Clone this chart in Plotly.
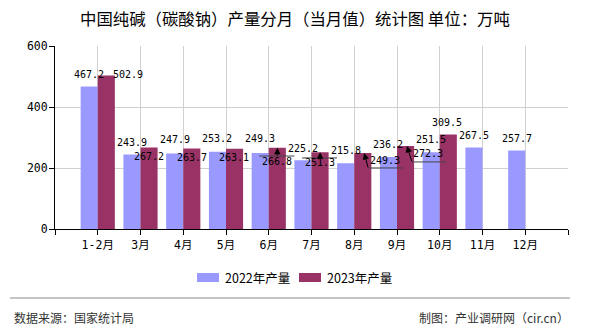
import plotly.graph_objects as go

# ---- data ----
categories = ["1-2月", "3月", "4月", "5月", "6月", "7月", "8月", "9月", "10月", "11月", "12月"]
prod_2022 = [467.2, 243.9, 247.9, 253.2, 249.3, 225.2, 215.8, 236.2, 251.5, 267.5, 257.7]
prod_2023 = [502.9, 267.2, 263.7, 263.1, 266.8, 251.3, 249.3, 272.3, 309.5]
series_names = ["2022年产量", "2023年产量"]
y_ticks = [0, 200, 400, 600]

# ---- styling ----
C22 = "#9999FF"
C23 = "#993366"
W, H = 590, 330
L, R, T, B = 55, 568, 46, 229  # plot area in pixels
LABEL_FONT = dict(family="DejaVu Sans Mono, Liberation Mono, monospace", size=10, color="#000")
CJK = "Noto Sans CJK SC"

# label offsets (px): (dx, dy_up) relative to each bar top
off22 = [(0, 12.5), (0, 12.6), (0, 13.4), (0, 12.8), (0, 14), (0, 12.3), (0, 12.2),
         (0, 12), (0, 12.3), (0, 12.4), (0, 12.4)]
off23 = [(22, 1.6), (0, -8.5), (0, -9.4), (-1, -9), (0, -13.4), (0, -10.6),
         (22, -8), (22, -8), (-1, 12.6)]
# leader lines for some 2023 labels: index -> (tail_dx, tail_dy, ul_x0, ul_x1, tip_dx)
leaders23 = {4: (0, -8.4, -18, 17, 0), 5: (0, -5.6, -18, 17, 0),
             6: (5.4, -15, 5.4, 40.4, 1.4), 7: (6.4, -16, 6.4, 40.4, 1.4)}

x = list(range(len(categories)))
BAR_OFF = 0.2  # half of a bar within the group (bargap 0.2, two bars)

fig = go.Figure()
fig.add_trace(go.Bar(x=x, y=prod_2022, name=series_names[0], marker=dict(color=C22, line=dict(width=0)),
                     showlegend=False))
fig.add_trace(go.Bar(x=x[:len(prod_2023)], y=prod_2023, name=series_names[1],
                     marker=dict(color=C23, line=dict(width=0)), showlegend=False))

annotations = []
shapes = []
for i, v in enumerate(prod_2022):
    dx, dy = off22[i]
    annotations.append(dict(x=i - BAR_OFF, y=v, xref="x", yref="y", text=f"{v:.1f}", showarrow=False,
                            xshift=dx, yshift=dy, font=LABEL_FONT, xanchor="center", yanchor="middle"))
for i, v in enumerate(prod_2023):
    dx, dy = off23[i]
    annotations.append(dict(x=i + BAR_OFF, y=v, xref="x", yref="y", text=f"{v:.1f}", showarrow=False,
                            xshift=dx, yshift=dy, font=LABEL_FONT, xanchor="center", yanchor="middle"))
    if i in leaders23:
        tdx, tdy, u0, u1, tip = leaders23[i]
        shapes.append(dict(type="line", xref="x", yref="y", xsizemode="pixel", ysizemode="pixel",
                           xanchor=i + BAR_OFF, yanchor=v, x0=u0, x1=u1, y0=tdy, y1=tdy,
                           line=dict(color="#444", width=1)))
        annotations.append(dict(x=i + BAR_OFF, y=v, xref="x", yref="y", text="", showarrow=True,
                                xshift=tip, axref="pixel", ayref="pixel", ax=tdx - tip, ay=-tdy,
                                arrowhead=2, arrowsize=1.3, arrowwidth=1, arrowcolor="#000",
                                standoff=0, borderpad=0))


def px2paper(px, py):
    return (px - L) / (R - L), (B - py) / (B - T)


# title
annotations.append(dict(xref="paper", yref="paper", x=px2paper(295, 0)[0], y=px2paper(0, 18)[1],
                        text="中国纯碱（碳酸钠）产量分月（当月值）统计图 单位：万吨", showarrow=False,
                        font=dict(family=CJK, size=16.4, color="#000"), xanchor="center", yanchor="middle"))

# legend
for (sx0, sx1, tx), name, col in [((197, 219, 223), series_names[0], C22),
                                   ((299, 321, 325), series_names[1], C23)]:
    a0 = px2paper(sx0, 273)
    a1 = px2paper(sx1, 282)
    shapes.append(dict(type="rect", xref="paper", yref="paper", x0=a0[0], x1=a1[0], y0=a1[1], y1=a0[1],
                       fillcolor=col, line=dict(width=0)))
    t = px2paper(tx, 277)
    annotations.append(dict(xref="paper", yref="paper", x=t[0], y=t[1], text=name, showarrow=False,
                            font=dict(family=CJK, size=12.5, color="#000"), xanchor="left", yanchor="middle"))

# footer
f0 = px2paper(10, 298)
f1 = px2paper(570, 298)
shapes.append(dict(type="line", xref="paper", yref="paper", x0=f0[0], x1=f1[0], y0=f0[1], y1=f1[1],
                   line=dict(color="#888", width=1)))
s = px2paper(12, 317)
annotations.append(dict(xref="paper", yref="paper", x=s[0], y=s[1], text="数据来源：国家统计局", showarrow=False,
                        font=dict(family=CJK, size=12, color="#333"), xanchor="left", yanchor="middle"))
s = px2paper(571, 317)
annotations.append(dict(xref="paper", yref="paper", x=s[0], y=s[1], text="制图：产业调研网（cir.cn）",
                        showarrow=False, font=dict(family=CJK, size=12, color="#333"),
                        xanchor="right", yanchor="middle"))

fig.update_layout(
    width=W, height=H,
    margin=dict(l=L, r=W - R, t=T, b=H - B, pad=0),
    paper_bgcolor="white", plot_bgcolor="white",
    barmode="group", bargap=0.2, bargroupgap=0,
    annotations=annotations, shapes=shapes,
    showlegend=False,
    xaxis=dict(range=[-1, len(categories)], tickmode="array",
               tickvals=[-1] + x + [len(categories)],
               ticktext=[""] + categories + [""],
               showgrid=True, gridcolor="#d0d0d0", gridwidth=1,
               showline=True, linecolor="#000", linewidth=1,
               ticks="outside", ticklen=5, tickcolor="#000",
               zeroline=False,
               tickfont=dict(family="DejaVu Sans Mono, " + CJK, size=11.5, color="#000")),
    yaxis=dict(range=[0, 600], tickvals=y_ticks, showgrid=True, gridcolor="#d0d0d0", gridwidth=1,
               showline=True, linecolor="#000", linewidth=1,
               ticks="outside", ticklen=5, tickcolor="#000", zeroline=False,
               ticklabelstandoff=-1,
               tickfont=dict(family="DejaVu Sans Mono", size=11.5, color="#000")),
)

fig.write_html("out.html")
